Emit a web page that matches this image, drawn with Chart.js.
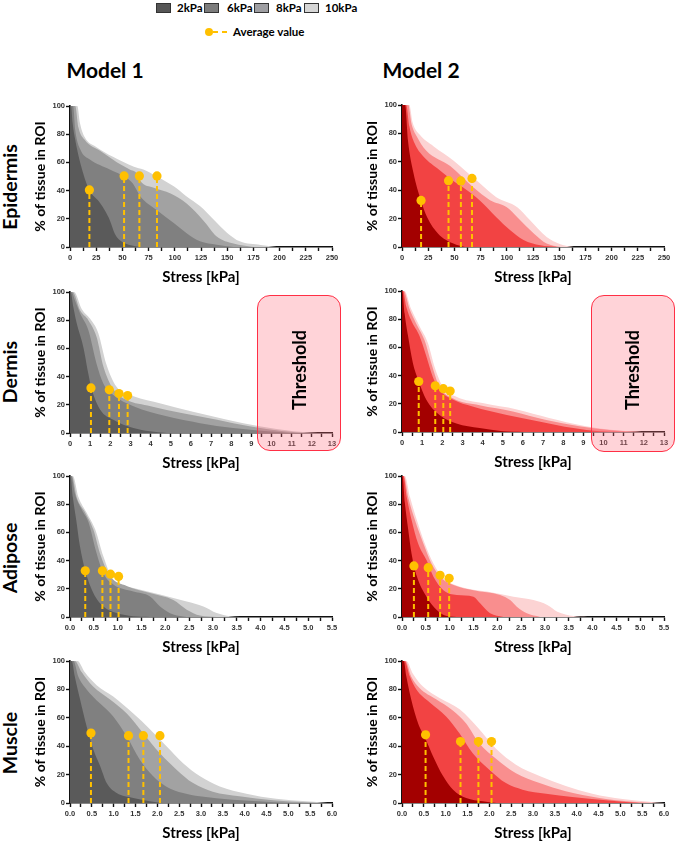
<!DOCTYPE html>
<html><head><meta charset="utf-8">
<script src="https://cdn.jsdelivr.net/npm/chart.js@4.4.1/dist/chart.umd.min.js"></script>
<style>
html,body{margin:0;padding:0;background:#fff;}
#root{position:relative;width:675px;height:842px;overflow:hidden;font-family:Lato,"Open Sans",sans-serif;}
.t{position:absolute;white-space:nowrap;font-weight:bold;color:#000;line-height:1.2;transform:translate(-50%,-50%);}
.r{transform:translate(-50%,-50%) rotate(-90deg);}
canvas{position:absolute;}
.sw{position:absolute;width:15px;height:10px;border:1px solid #333;box-sizing:border-box;}
.thr{position:absolute;border:1.5px solid #ff2f45;border-radius:13px;background:rgba(255,110,125,0.3);box-sizing:border-box;z-index:5;}
</style></head>
<body><div id="root"></div>
<script>
// ---------------- DATA ----------------
const pressures = ['2kPa','6kPa','8kPa','10kPa'];
const models = ['Model 1','Model 2'];
const tissues = ['Epidermis','Dermis','Adipose','Muscle'];

// Epidermis, Model 1
const epiM1_2  = [[0,100],[1,100],[2.5,88],[5,76],[10,59],[18,41],[28,32],[34,25],[38,19],[43,9],[50,3.5],[58,1.2],[67,0]];
const epiM1_6  = [[0,100],[3,100],[5,83],[10,69],[19,62],[38,55],[54,49],[60,45],[67,36],[83,26],[99,17],[111,10],[124,4],[140,1.6],[156,0]];
const epiM1_8  = [[0,100],[5,100],[8,85],[14,76],[29,68],[45,60],[57,55],[64,52],[67,47],[80,42],[96,38],[111,31],[127,19],[140,7.5],[156,2.4],[175,0]];
const epiM1_10 = [[0,100],[7,100],[9.5,88],[14,78],[25,71],[41,64],[61,57],[70,55],[83,50],[99,43],[111,36],[124,29],[137,19.5],[150,10],[162,4],[182,1.5],[197,0]];
const epiM1_avgX = [18.5,51.6,66.2,83];
const epiM1_avgY = [40.5,50.4,50.4,50.4];
// Epidermis, Model 2
const epiM2_2  = [[0,100],[3,100],[5.7,75],[11,52],[18,33],[24,21],[34.5,9.4],[49,2.4],[60,0]];
const epiM2_6  = [[0,100],[4,100],[7,85],[12,73],[20,64],[36,54],[46,48],[62,40],[74,33],[90,21],[103,12],[116,5],[132,1.2],[148,0]];
const epiM2_8  = [[0,100],[6,100],[9,87],[14,78],[23,68],[46,57],[68,42],[84,33],[100,28],[110,21],[126,9.4],[138,2.4],[151,0]];
const epiM2_10 = [[0,100],[7,100],[10,88],[17,79],[30,71],[49,61],[74,45],[90,35],[110,28],[122,19],[138,7],[151,2],[164,0]];
const epiM2_avgX = [18.2,44.4,56.2,66.8];
const epiM2_avgY = [32.8,46.7,46.5,48.3];
// Dermis, Model 1
const derM1_2  = [[0,100],[0.03,100],[0.17,89],[0.33,78],[0.66,61],[0.91,42],[1.08,31],[1.5,16.5],[2.15,9.4],[3.15,3.5],[3.97,1.2],[4.8,0]];
const derM1_6  = [[0,100],[0.08,100],[0.25,94],[0.5,85],[0.91,73],[1.32,49],[1.66,35],[2.15,27],[3.15,19],[4.8,11.8],[6.46,7],[8.1,3.5],[9.8,1.2],[10.9,0]];
const derM1_8  = [[0,100],[0.13,100],[0.5,87],[0.91,80],[1.32,68],[1.66,47],[2.15,31],[2.8,23.5],[4,19],[5.6,14],[7.3,9.4],[8.9,4.7],[10.6,1.2],[11.8,0]];
const derM1_10 = [[0,100],[0.2,100],[0.58,88],[1,81],[1.4,71],[1.8,49],[2.3,33],[3.15,26],[4.5,21],[6.1,15],[7.8,9.4],[9.4,4.7],[11.1,1.2],[12.3,0]];
const derM1_avgX = [1.04,1.95,2.43,2.86];
const derM1_avgY = [32,30.6,28,26.6];
// Dermis, Model 2
const derM2_2  = [[0,100],[0.02,100],[0.13,84],[0.3,68],[0.54,49],[0.83,36],[1.2,23],[1.86,12],[2.7,6],[3.85,2.8],[5,0.5],[6,0]];
const derM2_6  = [[0,100],[0.05,100],[0.21,89],[0.46,79],[0.87,68],[1.2,54],[1.53,39],[1.86,30],[2.52,23],[3.5,18],[5.2,12],[6.8,7.5],[8.5,2.8],[9.8,0.5],[10.9,0]];
const derM2_8  = [[0,100],[0.08,100],[0.38,87],[0.7,77],[1.12,65],[1.45,49],[1.86,32],[2.52,24],[3.85,19],[5.5,14.6],[7.1,8.7],[8.8,4],[10.4,1.2],[11.8,0]];
const derM2_10 = [[0,100],[0.12,100],[0.46,87],[0.87,75],[1.29,63],[1.62,46],[2.03,32],[2.7,25],[4,20.5],[5.7,16],[7.3,10],[9,4.5],[10.6,1.2],[11.9,0]];
const derM2_avgX = [0.83,1.65,2.05,2.39];
const derM2_avgY = [35.8,32.8,30.7,29];
// Adipose, Model 1
const adiM1_2  = [[0,100],[0.01,100],[0.06,85],[0.13,69],[0.21,50],[0.32,33],[0.49,17],[0.7,7.5],[0.98,2.8],[1.33,0.5],[1.68,0]];
const adiM1_6  = [[0,100],[0.03,100],[0.1,88],[0.25,76],[0.39,67],[0.56,45],[0.7,31],[0.91,23],[1.33,18],[1.68,14.6],[1.89,7.5],[2.17,1.7],[2.45,0]];
const adiM1_8  = [[0,100],[0.04,100],[0.14,85],[0.32,74],[0.49,62],[0.63,45],[0.84,29],[1.19,22],[1.68,17],[2.17,12],[2.45,5.2],[2.73,1],[3.08,0]];
const adiM1_10 = [[0,100],[0.06,100],[0.18,85],[0.35,74],[0.53,62],[0.7,43],[0.91,26],[1.33,20.5],[1.89,16],[2.45,11],[2.8,7.5],[3.08,2.8],[3.36,0.5],[3.57,0]];
const adiM1_avgX = [0.32,0.68,0.85,1.02];
const adiM1_avgY = [32.8,32.8,30.4,28.8];
// Adipose, Model 2
const adiM2_2  = [[0,100],[0.01,100],[0.06,81],[0.13,62],[0.2,45],[0.31,29],[0.52,14],[0.73,5],[0.94,0.7],[1.22,0]];
const adiM2_6  = [[0,100],[0.03,100],[0.1,85],[0.2,69],[0.34,52],[0.52,40],[0.66,28.6],[0.87,19],[1.15,15.6],[1.5,14.4],[1.64,9.7],[1.85,2.6],[2.13,0]];
const adiM2_8  = [[0,100],[0.04,100],[0.13,85],[0.27,69],[0.45,52],[0.62,38],[0.8,28.6],[1.08,22.7],[1.5,19],[2.06,15.6],[2.27,12],[2.41,7.3],[2.62,2.6],[2.9,0]];
const adiM2_10 = [[0,100],[0.06,100],[0.17,85],[0.31,69],[0.48,52],[0.66,38],[0.87,27.4],[1.22,21.5],[1.78,18],[2.34,14.4],[2.76,12],[3.05,8.5],[3.26,3.8],[3.6,0.7],[3.89,0]];
const adiM2_avgX = [0.25,0.55,0.8,0.99];
const adiM2_avgY = [36.2,35,29.6,27.4];
// Muscle, Model 1
const musM1_2  = [[0,100],[0.04,100],[0.11,89],[0.23,73],[0.38,54],[0.53,38],[0.69,26],[0.84,14],[1.07,7],[1.45,3.5],[1.83,1.2],[2.13,0]];
const musM1_6  = [[0,100],[0.08,100],[0.19,89],[0.38,80],[0.69,70],[0.99,61],[1.3,47],[1.6,30.5],[1.9,19],[2.2,11.7],[2.59,7],[2.97,4.7],[3.73,2.3],[4.49,0.9],[5.1,0]];
const musM1_8  = [[0,100],[0.11,100],[0.27,92],[0.53,82],[0.91,73],[1.3,63],[1.68,49],[2.06,35],[2.44,23.5],[2.82,14],[3.27,8],[3.88,4.7],[4.65,1.9],[5.41,0.5],[5.71,0]];
const musM1_10 = [[0,100],[0.17,100],[0.34,92],[0.61,83],[0.99,75],[1.45,63],[1.83,52],[2.21,40],[2.59,28],[2.97,19],[3.43,11.7],[4.04,6.6],[4.72,3],[5.41,1.2],[5.9,0]];
const musM1_avgX = [0.48,1.34,1.68,2.06];
const musM1_avgY = [49.3,47.4,47.4,47.4];
// Muscle, Model 2
const musM2_2  = [[0,100],[0.04,100],[0.1,89],[0.21,73],[0.37,56],[0.54,45],[0.71,33],[0.94,19],[1.17,9.4],[1.47,3.5],[1.85,1.2],[2.16,0]];
const musM2_6  = [[0,100],[0.06,100],[0.18,89],[0.33,80],[0.63,71],[1.01,61],[1.32,49],[1.62,35],[2,23.5],[2.38,14],[2.76,9.4],[3.3,6.6],[3.9,4.2],[4.67,1.9],[5.43,0]];
const musM2_8  = [[0,100],[0.08,100],[0.21,89],[0.4,81],[0.78,73],[1.17,65],[1.47,56],[1.77,42],[2.16,31],[2.61,21],[3.15,14],[3.75,8.2],[4.52,3.5],[5.28,0.9],[5.81,0]];
const musM2_10 = [[0,100],[0.1,100],[0.25,91],[0.48,82],[0.86,74],[1.32,66],[1.77,52],[2.16,38],[2.61,27],[3.15,19],[3.75,12],[4.36,6.6],[5.05,2.8],[5.66,0.9],[6,0]];
const musM2_avgX = [0.54,1.34,1.75,2.05];
const musM2_avgY = [48,43.3,43.3,43.3];

// x-axis ranges: [max, labelled step, decimals]
const epiXAxis = [250, 25, 0];
const derXAxis = [13, 1, 0];
const adiXAxis = [5.5, 0.5, 1];
const musXAxis = [6, 0.5, 1];
const yTicks = [0, 20, 40, 60, 80, 100];

// ---------------- STYLE ----------------
const GREY = ['#5a5a5a', '#808080', '#a2a2a2', '#d2d2d2'];
const RED  = ['#a30000', '#f24343', '#f98e8e', '#fcd3d3'];
const YEL = '#ffc000';
const root = document.getElementById('root');

function txt(s, cx, cy, size, rot, extra) {
  const d = document.createElement('div');
  d.className = 't' + (rot ? ' r' : '');
  d.textContent = s;
  d.style.left = cx + 'px'; d.style.top = cy + 'px'; d.style.fontSize = size + 'px';
  if (extra) Object.assign(d.style, extra);
  root.appendChild(d);
  return d;
}

// Legend
const swX = [156, 204, 254, 304], lbX = [177, 227, 276, 325];
const swC = ['#565656', '#7c7c7c', '#9e9ea2', '#d6d6d6'];
pressures.forEach((p, i) => {
  const s = document.createElement('div'); s.className = 'sw';
  s.style.left = swX[i] + 'px'; s.style.top = '3px'; s.style.background = swC[i];
  root.appendChild(s);
  txt(p, lbX[i], 8, 11.5, false, {transform: 'translate(0,-50%)'});
});
{
  const dot = document.createElement('div');
  Object.assign(dot.style, {position:'absolute', left:'205px', top:'28px', width:'8px', height:'8px', borderRadius:'50%', background:YEL});
  root.appendChild(dot);
  [[213,5],[222,5]].forEach(([x,w]) => {
    const dsh = document.createElement('div');
    Object.assign(dsh.style, {position:'absolute', left:x+'px', top:'31px', width:w+'px', height:'2px', background:YEL});
    root.appendChild(dsh);
  });
  txt('Average value', 233, 32, 11.5, false, {transform: 'translate(0,-50%)'});
}
// Column and row titles
txt(models[0], 105, 70, 21);
txt(models[1], 421, 70, 21);
const rowCY = [187, 372, 558, 743];
tissues.forEach((t, i) => txt(t, 10, rowCY[i], 19.5, true));

// Panels
const panels = [
  {L:70,  R:332, T:106, B:247, ax:epiXAxis, col:GREY, s:[epiM1_2,epiM1_6,epiM1_8,epiM1_10], ax_:epiM1_avgX, ay:epiM1_avgY},
  {L:402, R:664, T:105, B:247, ax:epiXAxis, col:RED,  s:[epiM2_2,epiM2_6,epiM2_8,epiM2_10], ax_:epiM2_avgX, ay:epiM2_avgY},
  {L:70,  R:332, T:292, B:433, ax:derXAxis, col:GREY, s:[derM1_2,derM1_6,derM1_8,derM1_10], ax_:derM1_avgX, ay:derM1_avgY},
  {L:402, R:664, T:291, B:432, ax:derXAxis, col:RED,  s:[derM2_2,derM2_6,derM2_8,derM2_10], ax_:derM2_avgX, ay:derM2_avgY},
  {L:70,  R:332, T:476, B:617, ax:adiXAxis, col:GREY, s:[adiM1_2,adiM1_6,adiM1_8,adiM1_10], ax_:adiM1_avgX, ay:adiM1_avgY},
  {L:402, R:664, T:476, B:617, ax:adiXAxis, col:RED,  s:[adiM2_2,adiM2_6,adiM2_8,adiM2_10], ax_:adiM2_avgX, ay:adiM2_avgY},
  {L:70,  R:332, T:661, B:803, ax:musXAxis, col:GREY, s:[musM1_2,musM1_6,musM1_8,musM1_10], ax_:musM1_avgX, ay:musM1_avgY},
  {L:402, R:664, T:661, B:803, ax:musXAxis, col:RED,  s:[musM2_2,musM2_6,musM2_8,musM2_10], ax_:musM2_avgX, ay:musM2_avgY},
];

const PADT = 10, PADR = 14, YW = 60, XH = 45;
const tickFont = {family:'"Liberation Sans", Arial, sans-serif', weight:'bold', size:7.5};

panels.forEach(p => {
  const cv = document.createElement('canvas');
  const w = (p.R - p.L) + YW + PADR, h = (p.B - p.T) + PADT + XH;
  cv.width = w; cv.height = h;
  cv.style.left = (p.L - YW) + 'px'; cv.style.top = (p.T - PADT) + 'px';
  cv.style.width = w + 'px'; cv.style.height = h + 'px';
  root.appendChild(cv);
  const [xmax, xstep, dec] = p.ax;
  const datasets = [];
  p.ax_.forEach((x, i) => {
    datasets.push({type:'line', data:[{x:x, y:0}, {x:x, y:p.ay[i]}], borderColor:YEL, borderWidth:2,
      borderDash:[5,3], pointRadius:[0,4.6], pointBackgroundColor:YEL, pointBorderWidth:0,
      fill:false, order:0, clip:false});
  });
  p.s.forEach((ser, i) => {
    datasets.push({type:'line', label:pressures[i], data:ser.map(([x,y]) => ({x, y})),
      borderWidth:0, borderColor:p.col[i], backgroundColor:p.col[i], pointRadius:0,
      fill:'origin', cubicInterpolationMode:'monotone', order:i + 1});
  });
  new Chart(cv, {
    data:{datasets},
    options:{
      responsive:false, animation:false, events:[],
      layout:{padding:{top:PADT, right:PADR, left:0, bottom:0}},
      plugins:{legend:{display:false}, tooltip:{enabled:false}},
      scales:{
        x:{type:'linear', min:0, max:xmax,
          afterFit:s => { s.height = XH; },
          border:{display:true, color:'#111', width:1.6},
          grid:{display:true, drawOnChartArea:false, drawTicks:true, tickLength:4, tickColor:'#111', tickWidth:1.4},
          ticks:{stepSize:xstep / 2, autoSkip:false, maxRotation:0, minRotation:0, padding:2, color:'#333', font:tickFont,
            callback:v => { const k = v / xstep; return Math.abs(k - Math.round(k)) < 1e-6 ? v.toFixed(dec) : ''; }},
          title:{display:true, text:'Stress [kPa]', color:'#000', font:{family:'Lato', weight:'bold', size:15}, padding:{top:0, bottom:6}}
        },
        y:{type:'linear', min:yTicks[0], max:yTicks[yTicks.length - 1],
          afterFit:s => { s.width = YW; },
          border:{display:true, color:'#111', width:1.6},
          grid:{display:true, drawOnChartArea:false, drawTicks:true, tickLength:4, tickColor:'#111', tickWidth:1.4},
          ticks:{stepSize:yTicks[1] - yTicks[0], padding:1, color:'#333', font:tickFont},
          title:{display:true, text:'% of tissue in ROI', color:'#000', font:{family:'Lato', weight:'bold', size:14}, padding:{top:21.6, bottom:0}}
        }
      }
    }
  });
});

// Threshold boxes (dermis)
[[257, 295, 84, 156, 300], [591, 295, 84, 157, 633]].forEach(([x, y, w, h, tx]) => {
  const b = document.createElement('div'); b.className = 'thr';
  Object.assign(b.style, {left:x+'px', top:y+'px', width:w+'px', height:h+'px'});
  root.appendChild(b);
  txt('Threshold', tx, 370, 18, true, {zIndex:6});
});
</script>
</body></html>
